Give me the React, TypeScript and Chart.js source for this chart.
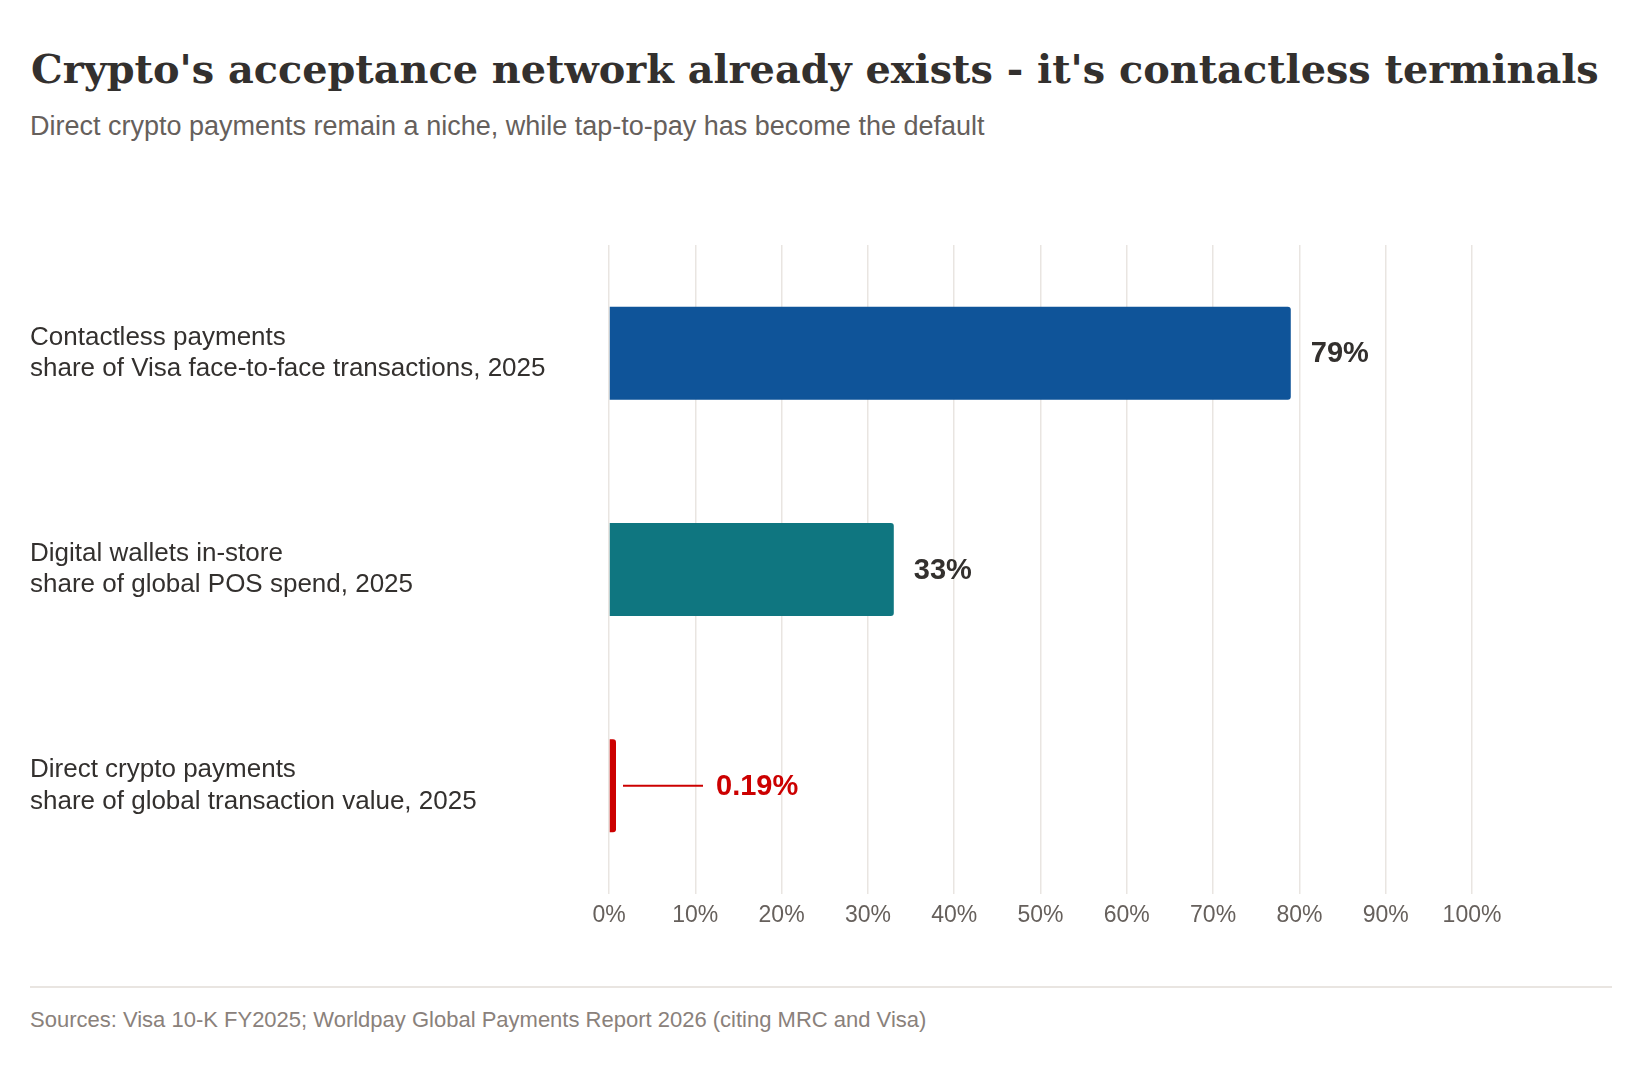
import { useEffect, useRef } from "react";
import { Chart, registerables } from "chart.js";

Chart.register(...registerables);

// Chart data
const categories = [
  ["Contactless payments", "share of Visa face-to-face transactions, 2025"],
  ["Digital wallets in-store", "share of global POS spend, 2025"],
  ["Direct crypto payments", "share of global transaction value, 2025"],
];
const shares = [79, 33, 0.19];
const valueLabels = ["79%", "33%", "0.19%"];
const barColors = ["#0f5499", "#0f7680", "#cc0000"];
const calloutBars = [false, false, true]; // tiny bar gets a leader line

const INK = "#33302e";
const MUTED = "#66605c";
const GRID = "#e9e5e1";
const SANS = "'Liberation Sans', Arial, Helvetica, sans-serif";

const valueLabelPlugin = {
  id: "valueLabels",
  afterDatasetsDraw(chart: Chart) {
    const ctx = chart.ctx;
    const meta = chart.getDatasetMeta(0);
    meta.data.forEach((bar: any, i: number) => {
      const { x, y } = bar.getProps(["x", "y"], true);
      ctx.save();
      ctx.font = `bold 29px ${SANS}`;
      ctx.textAlign = "left";
      ctx.textBaseline = "middle";
      if (calloutBars[i]) {
        ctx.strokeStyle = barColors[i];
        ctx.lineWidth = 2;
        ctx.beginPath();
        ctx.moveTo(x + 7, y);
        ctx.lineTo(x + 87, y);
        ctx.stroke();
        ctx.fillStyle = barColors[i];
        ctx.fillText(valueLabels[i], x + 100, y + 1);
      } else {
        ctx.fillStyle = INK;
        ctx.fillText(valueLabels[i], x + 20, y + 1);
      }
      ctx.restore();
    });
  },
};

function SharesChart() {
  const chartRef = useRef<HTMLCanvasElement>(null);
  const chartInstance = useRef<Chart | null>(null);

  useEffect(() => {
    if (!chartRef.current) return;
    if (chartInstance.current) chartInstance.current.destroy();

    chartInstance.current = new Chart(chartRef.current, {
      type: "bar",
      data: {
        labels: categories,
        datasets: [
          {
            data: shares,
            backgroundColor: barColors,
            borderRadius: 3,
            borderSkipped: "start",
            barPercentage: 0.43,
            categoryPercentage: 1,
            minBarLength: 7,
          },
        ],
      },
      options: {
        indexAxis: "y",
        animation: false,
        responsive: true,
        maintainAspectRatio: false,
        layout: { padding: { left: 30, right: 160, top: 45, bottom: 0 } },
        font: { family: SANS },
        scales: {
          x: {
            min: 0,
            max: 100,
            grid: { color: GRID, lineWidth: 1.5, drawTicks: false },
            border: { display: false },
            ticks: {
              stepSize: 10,
              padding: 8,
              color: MUTED,
              font: { family: SANS, size: 23 },
              callback: (v: any) => `${v}%`,
            },
            afterFit: (scale: any) => {
              scale.height = 46;
            },
          },
          y: {
            grid: { display: false },
            border: { display: false },
            ticks: {
              crossAlign: "far",
              color: INK,
              font: { family: SANS, size: 26, lineHeight: 1.2 },
            },
            afterFit: (scale: any) => {
              scale.width = 579;
            },
          },
        },
        plugins: {
          legend: { display: false },
          tooltip: { enabled: false },
        },
      },
      plugins: [valueLabelPlugin],
    });

    return () => {
      if (chartInstance.current) {
        chartInstance.current.destroy();
        chartInstance.current = null;
      }
    };
  }, []);

  return <canvas ref={chartRef} />;
}

export default function App() {
  return (
    <div
      style={{
        position: "absolute",
        left: 0,
        top: 0,
        width: 1632,
        height: 1084,
        background: "#ffffff",
        fontFamily: SANS,
      }}
    >
      <div
        style={{
          position: "absolute",
          left: 31,
          top: 50,
          fontFamily: "'DejaVu Serif', Georgia, serif",
          fontWeight: 700,
          fontSize: 39.8,
          lineHeight: 1,
          color: INK,
          whiteSpace: "nowrap",
        }}
      >
        Crypto's acceptance network already exists - it's contactless terminals
      </div>
      <div
        style={{
          position: "absolute",
          left: 30,
          top: 113,
          fontSize: 27,
          lineHeight: 1,
          color: MUTED,
          whiteSpace: "nowrap",
        }}
      >
        Direct crypto payments remain a niche, while tap-to-pay has become the default
      </div>
      <div style={{ position: "absolute", left: 0, top: 200, width: 1632, height: 740 }}>
        <SharesChart />
      </div>
      <div
        style={{
          position: "absolute",
          left: 30,
          top: 986,
          width: 1582,
          height: 2,
          background: GRID,
        }}
      />
      <div
        style={{
          position: "absolute",
          left: 30,
          top: 1009,
          fontSize: 22,
          lineHeight: 1,
          color: "#8a817b",
          whiteSpace: "nowrap",
        }}
      >
        Sources: Visa 10-K FY2025; Worldpay Global Payments Report 2026 (citing MRC and Visa)
      </div>
    </div>
  );
}
